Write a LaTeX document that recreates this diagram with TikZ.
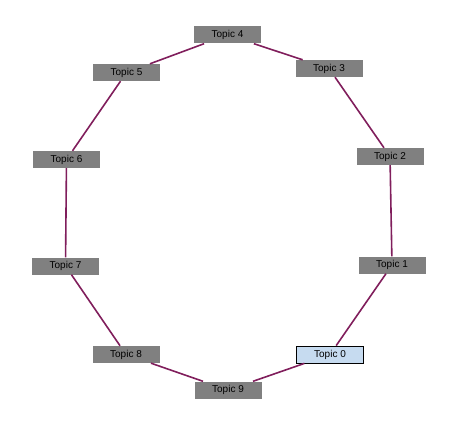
\documentclass[tikz,border=0pt]{standalone}
\usepackage{fontspec}
\setmainfont{Liberation Sans}
\usepackage{xcolor}
\usetikzlibrary{positioning}
\definecolor{ringline}{RGB}{128,30,92}
\definecolor{topicgray}{RGB}{128,128,128}
\definecolor{topicblue}{RGB}{198,219,240}
\tikzset{
  topicbox/.style={fill=topicgray,inner sep=0pt,minimum width=67pt,minimum height=17pt,
    font=\fontsize{10}{11}\selectfont},
  activebox/.style={topicbox,fill=topicblue,draw=black,line width=0.8pt},
  ringedge/.style={draw=ringline,line width=1.6pt}
}
\begin{document}
\begin{tikzpicture}[x=1pt,y=-1pt]
  \useasboundingbox (0,0) rectangle (460,430);
  \node[activebox] (topiczero) at (330,354.5) {Topic 0};
  \node[topicbox] (topicone) at (392,265) {Topic 1};
  \node[topicbox] (topictwo) at (390,156.5) {Topic 2};
  \node[topicbox] (topicthree) at (329,68.5) {Topic 3};
  \node[topicbox] (topicfour) at (227.5,35) {Topic 4};
  \node[topicbox] (topicfive) at (126.5,72.5) {Topic 5};
  \node[topicbox] (topicsix) at (66.5,159.5) {Topic 6};
  \node[topicbox] (topicseven) at (65.5,266) {Topic 7};
  \node[topicbox] (topiceight) at (126,354.5) {Topic 8};
  \node[topicbox] (topicnine) at (228,390) {Topic 9};
  \draw[ringedge] (topiczero)--(topicone);
  \draw[ringedge] (topicone)--(topictwo);
  \draw[ringedge] (topictwo)--(topicthree);
  \draw[ringedge] (topicthree)--(topicfour);
  \draw[ringedge] (topicfour)--(topicfive);
  \draw[ringedge] (topicfive)--(topicsix);
  \draw[ringedge] (topicsix)--(topicseven);
  \draw[ringedge] (topicseven)--(topiceight);
  \draw[ringedge] (topiceight)--(topicnine);
  \draw[ringedge] (topicnine)--(topiczero);
\end{tikzpicture}
\end{document}
